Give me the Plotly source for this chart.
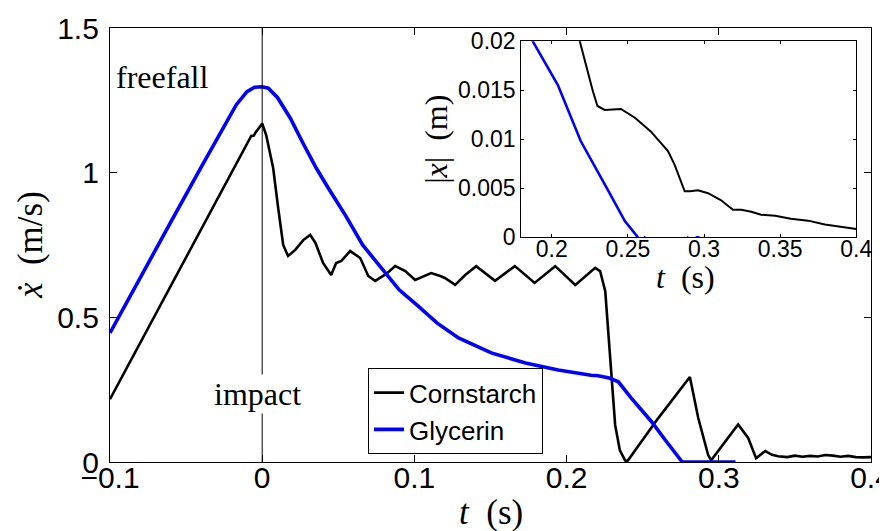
import plotly.graph_objects as go

# ---------------- data ----------------
corn_t = [-0.100, -0.088, -0.060, -0.030, -0.0072, -0.0055, -0.0046, -0.002, 0.000, 0.0026,
          0.0072, 0.0105, 0.0138, 0.017, 0.0217, 0.027, 0.0315, 0.035, 0.040, 0.0453,
          0.0486, 0.052, 0.0578, 0.0644, 0.0697, 0.0742, 0.0815, 0.0874, 0.094, 0.1005,
          0.107, 0.111, 0.117, 0.120, 0.1268, 0.1334, 0.1406, 0.153, 0.166, 0.179,
          0.1925, 0.2057, 0.2188, 0.222, 0.2254, 0.2286, 0.2319, 0.235, 0.2385, 0.240,
          0.260, 0.281, 0.2865, 0.293, 0.295, 0.3127, 0.3193, 0.3245, 0.3305, 0.335,
          0.339, 0.345, 0.350, 0.355, 0.360, 0.365, 0.370, 0.375, 0.380, 0.385,
          0.390, 0.395, 0.400]
corn_v = [0.217, 0.335, 0.609, 0.900, 1.127, 1.128, 1.137, 1.155, 1.170, 1.130,
          1.016, 0.878, 0.750, 0.712, 0.733, 0.767, 0.785, 0.757, 0.688, 0.646,
          0.688, 0.695, 0.729, 0.705, 0.643, 0.626, 0.650, 0.677, 0.660, 0.629,
          0.643, 0.653, 0.643, 0.636, 0.612, 0.646, 0.677, 0.626, 0.677, 0.619,
          0.677, 0.612, 0.671, 0.660, 0.590, 0.360, 0.128, 0.040, 0.005, 0.003,
          0.150, 0.294, 0.152, 0.024, 0.006, 0.130, 0.083, 0.013, 0.038, 0.025,
          0.020, 0.017, 0.022, 0.018, 0.021, 0.019, 0.024, 0.022, 0.018, 0.021,
          0.017, 0.016, 0.017]

gly_t = [-0.100, -0.080, -0.060, -0.040, -0.025, -0.017, -0.010, -0.005, 0.000, 0.004,
         0.010, 0.0184, 0.027, 0.0355, 0.0434, 0.055, 0.066, 0.0808, 0.090, 0.1025,
         0.115, 0.129, 0.1505, 0.173, 0.1945, 0.216, 0.2207, 0.228, 0.234, 0.2425,
         0.2557, 0.2648, 0.2746, 0.276, 0.311]
gly_v = [0.446, 0.640, 0.830, 1.020, 1.160, 1.235, 1.280, 1.295, 1.297, 1.292,
         1.260, 1.189, 1.100, 1.016, 0.947, 0.850, 0.750, 0.653, 0.595, 0.539,
         0.480, 0.429, 0.377, 0.342, 0.318, 0.300, 0.298, 0.290, 0.277, 0.221,
         0.140, 0.076, 0.007, 0.000, 0.000]

# inset: |x| (m)
ins_corn_t = [0.2175, 0.2184, 0.227, 0.230, 0.2348, 0.2454, 0.2546, 0.265, 0.2763, 0.2807,
              0.2873, 0.2908, 0.296, 0.3026, 0.311, 0.319, 0.3245, 0.331, 0.3375, 0.3467,
              0.357, 0.3684, 0.3793, 0.390, 0.400]
ins_corn_x = [0.0210, 0.0200, 0.0149, 0.0134, 0.0130, 0.0131, 0.0122, 0.0108, 0.0088, 0.0074,
              0.0047, 0.0047, 0.0048, 0.0045, 0.0038, 0.0028, 0.0028, 0.0026, 0.0023, 0.0022,
              0.0019, 0.0017, 0.0013, 0.0011, 0.00086]
ins_gly_t = [0.186, 0.1875, 0.204, 0.219, 0.2368, 0.248, 0.2566, None, 0.2605, 0.2615, None,
             0.2890, 0.2896, None, 0.2945, 0.2970]
ins_gly_x = [0.0206, 0.0200, 0.01554, 0.00982, 0.00483, 0.00166, 0.0, None, 0.0, 0.0, None,
             0.0, 0.0, None, 0.0, 0.0]

main_xticks = [-0.1, 0, 0.1, 0.2, 0.3, 0.4]
main_xticktext = ["\u22120.1", "0", "0.1", "0.2", "0.3", "0.4"]
main_yticks = [0, 0.5, 1, 1.5]
main_yticktext = ["0", "0.5", "1", "1.5"]
ins_xticks = [0.2, 0.25, 0.3, 0.35, 0.4]
ins_xticktext = ["0.2", "0.25", "0.3", "0.35", "0.4"]
ins_yticks = [0, 0.005, 0.01, 0.015, 0.02]
ins_yticktext = ["0", "0.005", "0.01", "0.015", "0.02"]

SANS = "Liberation Sans, Arial, sans-serif"
SERIF = "Liberation Serif, Times New Roman, serif"
NB = "\u00a0"

fig = go.Figure()
fig.add_trace(go.Scatter(x=corn_t, y=corn_v, mode="lines", name="Cornstarch",
                         line=dict(color="black", width=2.6), xaxis="x", yaxis="y"))
fig.add_trace(go.Scatter(x=gly_t, y=gly_v, mode="lines", name="Glycerin",
                         line=dict(color="#0000ff", width=3.6), xaxis="x", yaxis="y"))
fig.add_trace(go.Scatter(x=ins_corn_t, y=ins_corn_x, mode="lines", showlegend=False,
                         line=dict(color="black", width=2), xaxis="x2", yaxis="y2"))
fig.add_trace(go.Scatter(x=ins_gly_t, y=ins_gly_x, mode="lines", showlegend=False,
                         connectgaps=False,
                         line=dict(color="#0000ff", width=2.6), xaxis="x2", yaxis="y2"))

axis_common = dict(showgrid=False, zeroline=False, showline=True, linecolor="black",
                   linewidth=1.2, mirror="ticks", ticks="inside", tickcolor="black",
                   tickwidth=1)

title_font_main = dict(family=SERIF, size=35, color="black")
title_font_ins = dict(family=SERIF, size=32, color="black")

fig.update_layout(
    width=887, height=531,
    margin=dict(l=102, r=24, t=20, b=77, autoexpand=False),
    paper_bgcolor="white", plot_bgcolor="white",
    xaxis=dict(range=[-0.1, 0.4], domain=[0, 1], tickvals=main_xticks, ticktext=main_xticktext,
               ticklen=7, tickfont=dict(family=SANS, size=30, color="black"),
               ticklabelstandoff=-11, anchor="y", **axis_common),
    yaxis=dict(range=[0, 1.5], domain=[0, 1], tickvals=main_yticks, ticktext=main_yticktext,
               ticklen=7, tickfont=dict(family=SANS, size=30, color="black"),
               ticklabelstandoff=4, anchor="x", **axis_common),
    xaxis2=dict(range=[0.18, 0.4], domain=[0.5405, 0.9807], tickvals=ins_xticks,
                ticktext=ins_xticktext, ticklen=3,
                tickfont=dict(family=SANS, size=23, color="black"),
                ticklabelstandoff=-9, anchor="y2", **axis_common),
    yaxis2=dict(range=[0, 0.02], domain=[0.5177, 0.9694], tickvals=ins_yticks,
                ticktext=ins_yticktext, ticklen=3,
                tickfont=dict(family=SANS, size=23, color="black"),
                anchor="x2", **axis_common),
    legend=dict(x=0.3390, y=0.018, xanchor="left", yanchor="bottom",
                bgcolor="white", bordercolor="black", borderwidth=1,
                font=dict(family=SANS, size=26, color="black"),
                itemwidth=30, tracegroupgap=0),
    shapes=[dict(type="line", xref="x", yref="y", x0=0, x1=0, y0=0, y1=1.5,
                 line=dict(color="black", width=1), layer="above")],
    annotations=[
        dict(x=-0.0657, y=1.33, xref="x", yref="y", text="freefall", showarrow=False,
             font=dict(family=SERIF, size=32, color="black")),
        dict(x=-0.003, y=0.235, xref="x", yref="y", text="impact", showarrow=False,
             bgcolor="white", font=dict(family=SERIF, size=32, color="black")),
        # axis titles
        dict(x=0.5, y=-0.117, xref="paper", yref="paper", xanchor="center", yanchor="middle",
             text="<i>t</i>" + NB + NB + "(s)", showarrow=False, font=title_font_main),
        dict(x=-0.105, y=0.5, xref="paper", yref="paper", xanchor="center", yanchor="middle",
             text="<i>x\u0307</i>" + NB + NB + "(m/s)", textangle=-90, showarrow=False,
             font=title_font_main),
        dict(x=0.7560, y=0.426, xref="paper", yref="paper", xanchor="center", yanchor="middle",
             text="<i>t</i>" + NB + NB + "(s)", showarrow=False, font=title_font_ins),
        dict(x=0.428, y=0.744, xref="paper", yref="paper", xanchor="center", yanchor="middle",
             text="|<i>x</i>|" + NB + NB + "(m)", textangle=-90, showarrow=False,
             font=title_font_ins),
    ],
    showlegend=True,
)

fig.write_html("out.html")
